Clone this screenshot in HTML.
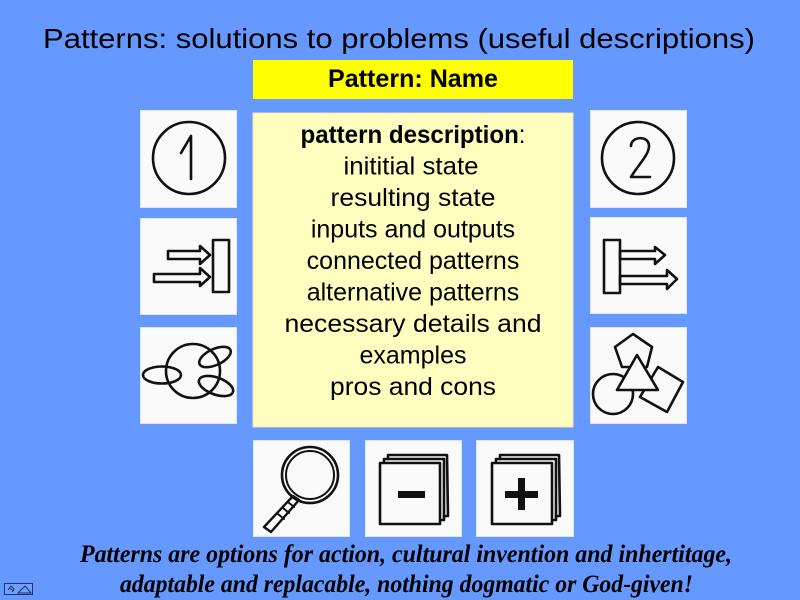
<!DOCTYPE html>
<html><head><meta charset="utf-8"><style>
html,body{margin:0;padding:0;background:#6699FF;}
svg{display:block;}
</style></head><body>
<svg width="800" height="600" viewBox="0 0 800 600" xmlns="http://www.w3.org/2000/svg">
<rect x="0" y="0" width="800" height="600" fill="#6699FF"/>
<text x="399" y="48" font-family="Liberation Sans, Arial, sans-serif" font-size="28" fill="#000" text-anchor="middle" textLength="712" lengthAdjust="spacingAndGlyphs">Patterns: solutions to problems (useful descriptions)</text>

<rect x="253" y="60" width="320" height="39" fill="#FFFF00"/>
<text x="413" y="87" font-family="Liberation Sans, Arial, sans-serif" font-size="25" font-weight="bold" fill="#000" text-anchor="middle" textLength="170" lengthAdjust="spacingAndGlyphs">Pattern: Name</text>

<rect x="253" y="113" width="320" height="314" fill="#FFFFC0" stroke="#E8E8B0" stroke-width="1"/>
<g font-family="Liberation Sans, Arial, sans-serif" font-size="25" fill="#000" text-anchor="middle">
<text x="413" y="143" textLength="225" lengthAdjust="spacingAndGlyphs"><tspan font-weight="bold">pattern description</tspan>:</text>
<text x="411" y="174.5" textLength="135" lengthAdjust="spacingAndGlyphs">inititial state</text>
<text x="413" y="206" textLength="165" lengthAdjust="spacingAndGlyphs">resulting state</text>
<text x="413" y="237.5">inputs and outputs</text>
<text x="413" y="269">connected patterns</text>
<text x="413" y="300.5">alternative patterns</text>
<text x="413" y="332" textLength="257" lengthAdjust="spacingAndGlyphs">necessary details and</text>
<text x="413" y="363.5">examples</text>
<text x="413" y="395" textLength="166" lengthAdjust="spacingAndGlyphs">pros and cons</text>
</g>

<!-- icon boxes -->
<g fill="#FAFAFA" stroke="#DCE6F8" stroke-width="1">
<rect x="140.5" y="110.5" width="96" height="97"/>
<rect x="140.5" y="218.5" width="96" height="96"/>
<rect x="140.5" y="327.5" width="96" height="96"/>
<rect x="590.5" y="110.5" width="96" height="97"/>
<rect x="590.5" y="217.5" width="96" height="96"/>
<rect x="590.5" y="327.5" width="96" height="96"/>
<rect x="253.5" y="440.5" width="96" height="96"/>
<rect x="365.5" y="440.5" width="96" height="96"/>
<rect x="476.5" y="440.5" width="97" height="96"/>
</g>

<g fill="none" stroke="#111" stroke-width="2.6" stroke-linecap="round" stroke-linejoin="round">
<!-- icon 1 -->
<g transform="translate(140,110)">
<circle cx="49" cy="48" r="36"/>
<path d="M41,43 L51,26 L51,69"/>
</g>
<!-- icon 2 -->
<g transform="translate(590,110)">
<circle cx="48" cy="48" r="36"/>
<path d="M41,36 C41,26 59,25 59,36 C59,45 48,55 41,67 L60,67"/>
</g>
<!-- left arrows into bar -->
<g transform="translate(140,218)">
<rect x="73" y="22" width="16" height="52" />
<path d="M28,33 L60,33 L60,28 L70,37 L60,46 L60,41 L28,41 Z"/>
<path d="M14,56 L60,56 L60,50 L70,59 L60,68 L60,64 L14,64 Z"/>
</g>
<!-- right bar with arrows out -->
<g transform="translate(590,217)">
<rect x="14" y="23" width="16" height="53"/>
<path d="M30,34 L65,34 L65,30 L75,38 L65,47 L65,42 L30,42 Z"/>
<path d="M30,59 L77,59 L77,53 L87,62 L77,72 L77,67 L30,67 Z"/>
</g>
<!-- ellipses -->
<g transform="translate(140,327)">
<circle cx="53" cy="44" r="27"/>
<ellipse cx="22" cy="48" rx="19" ry="8.5"/>
<ellipse cx="75" cy="30" rx="17" ry="8" transform="rotate(-25 75 30)"/>
<ellipse cx="76" cy="59" rx="18" ry="8.5" transform="rotate(20 76 59)"/>
</g>
<!-- shapes -->
<g transform="translate(590,327)">
<path d="M43,7 L25,20 L32,40 L57,40 L62,20 Z"/>
<circle cx="23" cy="67" r="20"/>
<path d="M68,40 L93,55 L77,85 L50,70 Z" fill="#FAFAFA"/>
<path d="M47,28 L27,63 L68,63 Z" fill="#FAFAFA"/>
</g>
<!-- magnifier -->
<g transform="translate(253,440)">
<circle cx="57" cy="35" r="28"/>
<circle cx="57" cy="35" r="24" stroke-width="2"/>
<path d="M40,56 L46,60 L18,92 L11,87 Z" stroke-width="2.4"/>
<path d="M35,62 L41,67 M30,68 L36,73 M25,74 L31,79" stroke-width="2"/>
</g>
<!-- minus cards -->
<g transform="translate(365,440)">
<path d="M23,19 L23,15 L82,15 L83,76 L79,76"/>
<path d="M19,23 L19,19 L79,19 L79,80 L75,80"/>
<rect x="15" y="23" width="60" height="61" fill="#FAFAFA"/>
<rect x="33" y="51" width="27" height="7" fill="#111" stroke="none"/>
</g>
<!-- plus cards -->
<g transform="translate(476,440)">
<path d="M24,19 L24,15 L83,15 L84,76 L80,76"/>
<path d="M20,23 L20,19 L80,19 L80,80 L76,80"/>
<rect x="16" y="23" width="60" height="61" fill="#FAFAFA"/>
<rect x="29" y="51" width="33" height="7" fill="#111" stroke="none"/>
<rect x="42" y="38" width="7" height="32" fill="#111" stroke="none"/>
</g>
</g>

<g font-family="Liberation Serif, 'DejaVu Serif', serif" font-style="italic" font-weight="bold" font-size="25" fill="#000" text-anchor="middle">
<text x="406" y="562" textLength="652" lengthAdjust="spacingAndGlyphs">Patterns are options for action, cultural invention and inhertitage,</text>
<text x="406.5" y="592" textLength="573" lengthAdjust="spacingAndGlyphs">adaptable and replacable, nothing dogmatic or God-given!</text>
</g>

<!-- nav widget -->
<rect x="4.5" y="583.5" width="28" height="11" fill="#6F9FFF" stroke="#223366" stroke-width="1"/>
<path d="M8,590 L11,586 L14,589 L12,592 M9,588 L14,591" stroke="#223366" stroke-width="1" fill="none"/>
<path d="M18,593 L25,586 L31,593 Z" stroke="#223366" stroke-width="1" fill="none"/>
</svg>
</body></html>
